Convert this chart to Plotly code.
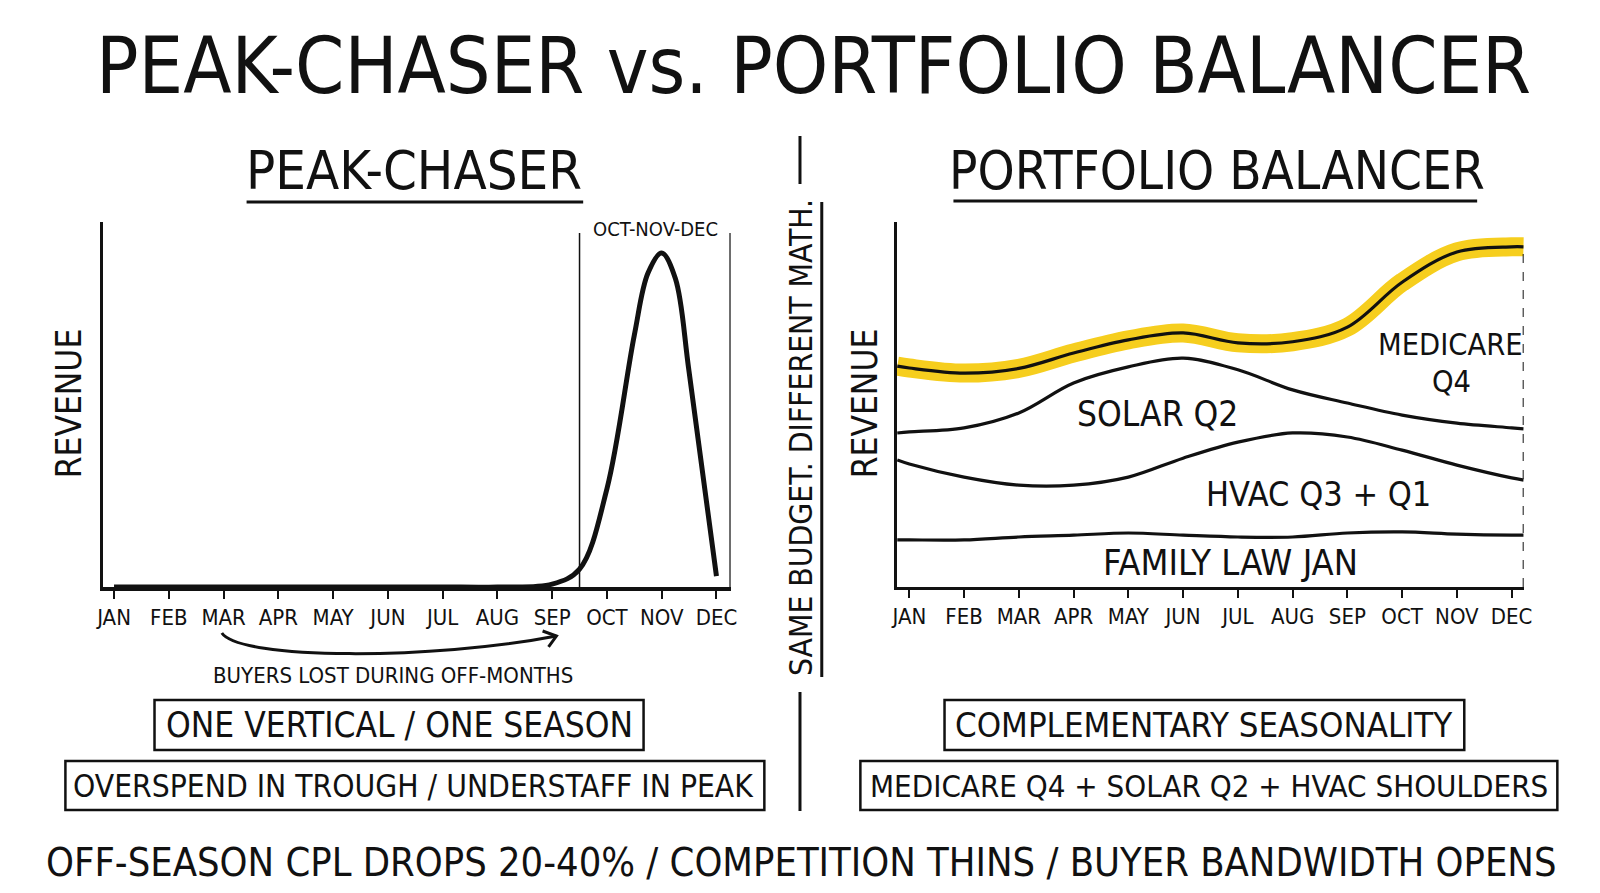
import numpy as np
import plotly.graph_objects as go

W, H = 1600, 893
FONT = "DejaVu Sans Condensed, Liberation Sans Narrow, DejaVu Sans, sans-serif"
INK = "#111111"
YELLOW = "#F6CE1E"

# ---------------- data ----------------
months = ["JAN", "FEB", "MAR", "APR", "MAY", "JUN", "JUL", "AUG", "SEP", "OCT", "NOV", "DEC"]
month_pos = list(range(1, 13))

# Peak-chaser: one vertical, revenue read at month / part-month points
peak_x = [1, 2, 3, 4, 5, 6, 7, 8, 9, 9.5, 10, 10.5, 10.75, 11, 11.25, 11.5, 12]
peak_revenue = [0, 0, 0, 0, 0, 0, 0, 0, 0.8, 4.9, 26.9, 69.0, 86.0, 91.5, 84.5, 59.0, 3.0]
season_window = [9.5, 12.25]          # OCT-NOV-DEC bracket

# Portfolio balancer: stacked revenue by vertical (axis edge, JAN..DEC, right edge)
mix_x = [0.78, 1, 2, 3, 4, 5, 6, 7, 8, 9, 10, 11, 12, 12.22]
family_law = [12.9, 12.9, 12.9, 13.7, 14.2, 14.8, 14.2, 13.7, 13.7, 14.8, 15.1, 14.5, 14.2, 14.2]
hvac = [21.9, 20.8, 17.2, 14.2, 13.7, 15.3, 21.1, 26.0, 28.5, 26.3, 22.4, 18.9, 15.7, 15.1]
solar = [7.4, 8.8, 13.5, 19.8, 28.0, 30.2, 27.4, 19.8, 11.8, 9.3, 9.6, 11.5, 13.7, 14.0]
medicare = [18.3, 17.5, 15.0, 12.2, 8.2, 7.4, 6.9, 7.4, 13.2, 20.8, 36.4, 46.9, 49.6, 49.9]

levels = np.cumsum(np.array([family_law, hvac, solar, medicare]), axis=0)
total = levels[-1]

# ---------------- helpers ----------------
def px(x):
    return x / W


def py(y):
    return 1 - y / H


def txt(x, y, s, size, angle=0):
    return dict(x=px(x), y=py(y), xref="paper", yref="paper", text=s, showarrow=False,
                font=dict(family=FONT, size=size, color=INK), xanchor="center",
                yanchor="middle", textangle=angle)


def pline(x0, y0, x1, y1, width=3, dash="solid"):
    return dict(type="line", xref="paper", yref="paper", x0=px(x0), y0=py(y0),
                x1=px(x1), y1=py(y1), line=dict(color=INK, width=width, dash=dash))


def prect(x0, y0, x1, y1, width=2.5):
    return dict(type="rect", xref="paper", yref="paper", x0=px(x0), y0=py(y1),
                x1=px(x1), y1=py(y0), line=dict(color=INK, width=width),
                fillcolor="rgba(0,0,0,0)")


def ppath(pts, cmd, width=3):
    vals = []
    for (x, y) in pts:
        vals.append(f"{px(x):.5f},{py(y):.5f}")
    return dict(type="path", xref="paper", yref="paper", path=cmd.format(*vals),
                line=dict(color=INK, width=width))


# ---------------- figure ----------------
fig = go.Figure()

fig.add_trace(go.Scatter(x=peak_x, y=peak_revenue, mode="lines", xaxis="x", yaxis="y",
                         line=dict(color=INK, width=5, shape="spline", smoothing=1),
                         hoverinfo="skip", showlegend=False))

fig.add_trace(go.Scatter(x=mix_x, y=total, mode="lines", xaxis="x2", yaxis="y2",
                         line=dict(color=YELLOW, width=19, shape="spline", smoothing=1),
                         hoverinfo="skip", showlegend=False))
for lvl in levels:
    fig.add_trace(go.Scatter(x=mix_x, y=lvl, mode="lines", xaxis="x2", yaxis="y2",
                             line=dict(color=INK, width=3.2, shape="spline", smoothing=1),
                             hoverinfo="skip", showlegend=False))

ydom = [py(587), py(222)]
axis_common = dict(showgrid=False, zeroline=False, showline=True, linecolor=INK)
xticks = dict(tickmode="array", tickvals=month_pos, ticktext=months, ticks="outside",
              ticklen=8, tickwidth=2, tickcolor=INK,
              tickfont=dict(family=FONT, size=22, color=INK))

fig.update_layout(
    width=W, height=H, autosize=False,
    margin=dict(l=0, r=0, t=0, b=0, pad=0),
    paper_bgcolor="white", plot_bgcolor="white",
    showlegend=False,
    xaxis=dict(domain=[px(96.5), px(731)], range=[0.79, 12.26], anchor="y",
               linewidth=4, **axis_common, **xticks),
    yaxis=dict(domain=ydom, range=[0, 100], anchor="x", linewidth=3,
               showticklabels=False, ticks="", **axis_common),
    xaxis2=dict(domain=[px(899), px(1532)], range=[0.775, 12.22], anchor="y2",
                linewidth=3, **axis_common, **xticks),
    yaxis2=dict(domain=ydom, range=[0, 100], anchor="x2", linewidth=3,
                showticklabels=False, ticks="", **axis_common),
)

shapes = []
# season bracket on left chart
for sx in season_window:
    shapes.append(dict(type="line", xref="x", yref="y", x0=sx, x1=sx, y0=0, y1=97,
                       line=dict(color=INK, width=1.5)))
# dashed right edge on portfolio chart
shapes.append(dict(type="line", xref="x2", yref="y2", x0=mix_x[-1], x1=mix_x[-1],
                   y0=0, y1=float(total[-1]), line=dict(color=INK, width=2, dash="dash")))
# underlines
shapes.append(pline(242, 202, 582, 202, 3))
shapes.append(pline(956, 201, 1485, 201, 3))
# centre divider
shapes.append(pline(801, 136, 801, 184, 3))
shapes.append(pline(823, 202, 823, 677, 3))
shapes.append(pline(801, 692, 801, 811, 3))
# curved arrow (buyers lost)
shapes.append(ppath([(217, 633), (235, 660), (430, 660), (555, 636)], "M {} C {} {} {}", 3))
shapes.append(ppath([(541, 631), (555, 636), (547, 647)], "M {} L {} L {}", 3))
# boxes
shapes.append(prect(149, 700, 643, 750))
shapes.append(prect(59, 761, 765, 810))
shapes.append(prect(947, 700, 1472, 750))
shapes.append(prect(862, 761, 1566, 810))
fig.update_layout(shapes=shapes)

ann = [
    txt(815, 66, "PEAK-CHASER vs. PORTFOLIO BALANCER", 78.5),
    txt(411, 170, "PEAK-CHASER", 54),
    txt(1222, 170, "PORTFOLIO BALANCER", 52.5),
    txt(63, 403, "REVENUE", 35, -90),
    txt(867, 403, "REVENUE", 35, -90),
    txt(655, 229, "OCT-NOV-DEC", 20),
    txt(390, 675, "BUYERS LOST DURING OFF-MONTHS", 22),
    txt(1458, 344, "MEDICARE", 30.5),
    txt(1459, 381, "Q4", 30.5),
    txt(1162, 414, "SOLAR Q2", 35),
    txt(1325, 494, "HVAC Q3 + Q1", 34),
    txt(1236, 562, "FAMILY LAW JAN", 36),
    txt(802, 437, "SAME BUDGET. DIFFERENT MATH.", 31.5, -90),
    txt(396, 725, "ONE VERTICAL / ONE SEASON", 35),
    txt(411, 786, "OVERSPEND IN TROUGH / UNDERSTAFF IN PEAK", 31.5),
    txt(1209, 725, "COMPLEMENTARY SEASONALITY", 34.5),
    txt(1214, 786, "MEDICARE Q4 + SOLAR Q2 + HVAC SHOULDERS", 31),
    txt(803, 862, "OFF-SEASON CPL DROPS 20-40% / COMPETITION THINS / BUYER BANDWIDTH OPENS", 39.5),
]
fig.update_layout(annotations=ann)

fig.write_html("out.html")
